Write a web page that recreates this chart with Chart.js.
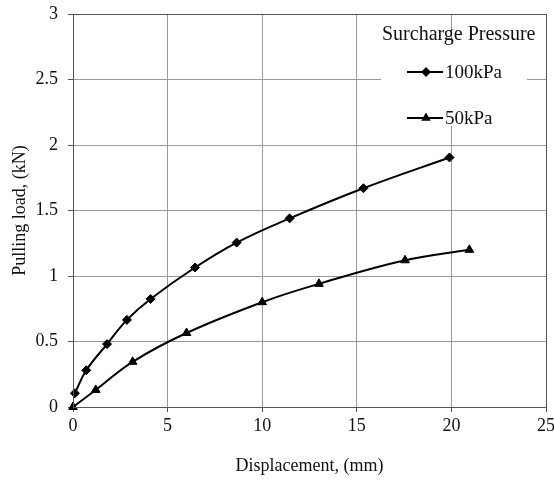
<!DOCTYPE html>
<html>
<head>
<meta charset="utf-8">
<script src="https://cdn.jsdelivr.net/npm/chart.js@4"></script>
<style>
  html, body { margin: 0; padding: 0; background: #fff; }
  #wrap { width: 554px; height: 483px; }
</style>
</head>
<body>
<div id="wrap"><canvas id="chart" width="554" height="483"></canvas></div>
<script>
// data
const legendTitle = 'Surcharge Pressure';
const seriesNames = ['100kPa', '50kPa'];

const disp100 = [0.1, 0.7, 1.8, 2.85, 4.1, 6.45, 8.65, 11.45, 15.35, 19.9];
const load100 = [0.105, 0.28, 0.48, 0.665, 0.825, 1.065, 1.255, 1.44, 1.67, 1.905];

const disp50 = [0, 1.2, 3.15, 6.0, 10.0, 13.0, 17.55, 20.95];
const load50 = [0, 0.13, 0.345, 0.565, 0.8, 0.94, 1.12, 1.2];

const xTicks = [0, 5, 10, 15, 20, 25];
const yTicks = [0, 0.5, 1, 1.5, 2, 2.5, 3];

const serif = "'Liberation Serif', 'DejaVu Serif', serif";

function toPoints(xs, ys) {
  return xs.map((x, i) => ({ x: x, y: ys[i] }));
}

// frame + legend box in the upper right
const boxLegend = {
  id: 'boxLegend',
  afterDraw(chart) {
    const ctx = chart.ctx;
    const a = chart.chartArea;
    ctx.save();
    // plot frame
    ctx.strokeStyle = '#555';
    ctx.lineWidth = 1;
    ctx.strokeRect(Math.round(a.left) + 0.5, Math.round(a.top) + 0.5,
      Math.round(a.right - a.left), Math.round(a.bottom - a.top));

    // white box behind the entries
    ctx.fillStyle = '#fff';
    ctx.fillRect(381, 44, 146, 82);

    ctx.fillStyle = '#111';
    ctx.font = '20px ' + serif;
    ctx.textBaseline = 'alphabetic';
    ctx.textAlign = 'left';
    ctx.fillText(legendTitle, 382, 40);

    const rows = [72, 118];
    chart.data.datasets.forEach((ds, i) => {
      const y = rows[i];
      ctx.strokeStyle = '#000';
      ctx.lineWidth = 2;
      ctx.beginPath();
      ctx.moveTo(407, y);
      ctx.lineTo(443, y);
      ctx.stroke();
      ctx.fillStyle = '#000';
      Chart.helpers.drawPoint(ctx, { pointStyle: ds.pointStyle, radius: 3.5, rotation: 0, borderWidth: 1 }, 426, y);
      ctx.fillStyle = '#111';
      ctx.textBaseline = 'middle';
      ctx.font = '19px ' + serif;
      ctx.fillText(ds.label, 445, y + 1);
    });
    ctx.restore();
  }
};

const chart = new Chart(document.getElementById('chart'), {
  type: 'scatter',
  data: {
    datasets: [
      {
        label: seriesNames[0],
        data: toPoints(disp100, load100),
        showLine: true,
        tension: 0.4,
        clip: false,
        borderColor: '#000',
        borderWidth: 2,
        backgroundColor: '#000',
        pointStyle: 'rectRot',
        pointRadius: 4.5,
        pointBorderWidth: 1
      },
      {
        label: seriesNames[1],
        data: toPoints(disp50, load50),
        showLine: true,
        tension: 0.4,
        clip: false,
        borderColor: '#000',
        borderWidth: 2,
        backgroundColor: '#000',
        pointStyle: 'triangle',
        pointRadius: 5,
        pointBorderWidth: 1
      }
    ]
  },
  options: {
    responsive: false,
    animation: false,
    layout: { padding: { left: 0, right: 8, top: 14, bottom: 0 } },
    plugins: {
      legend: { display: false },
      tooltip: { enabled: false }
    },
    scales: {
      x: {
        type: 'linear',
        min: 0,
        max: 25,
        afterBuildTicks: s => { s.ticks = xTicks.map(v => ({ value: v })); },
        afterFit: s => { s.height = 76; s.paddingLeft = 0; s.paddingRight = 0; },
        grid: { color: '#999', tickColor: '#555', tickLength: 5 },
        border: { color: '#555' },
        ticks: { color: '#111', padding: 3, font: { family: serif, size: 18 }, callback: v => String(v) },
        title: {
          display: true,
          text: 'Displacement, (mm)',
          color: '#111',
          padding: { top: 0, bottom: 6 },
          font: { family: serif, size: 18 }
        }
      },
      y: {
        min: 0,
        max: 3,
        afterBuildTicks: s => { s.ticks = yTicks.map(v => ({ value: v })); },
        afterFit: s => { s.width = 73; s.paddingTop = 0; s.paddingBottom = 0; },
        grid: { color: '#999', tickColor: '#555', tickLength: 5 },
        border: { color: '#555' },
        ticks: { color: '#111', padding: 10, font: { family: serif, size: 18 }, callback: v => String(v) },
        title: {
          display: true,
          text: 'Pulling load, (kN)',
          color: '#111',
          padding: { top: 9, bottom: 0 },
          font: { family: serif, size: 18 }
        }
      }
    }
  },
  plugins: [boxLegend]
});
</script>
</body>
</html>
